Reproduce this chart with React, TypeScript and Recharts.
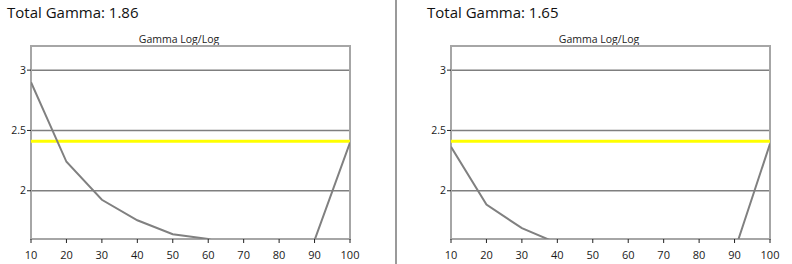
import {
  LineChart,
  Line,
  XAxis,
  YAxis,
  CartesianGrid,
  ReferenceLine,
  ReferenceArea,
} from 'recharts'

const levels = [10, 20, 30, 40, 50, 60, 70, 80, 90, 100]
const gammaLeft = [2.9, 2.24, 1.925, 1.755, 1.64, 1.6, 1.5, 1.5, 1.59, 2.4]
const gammaRight = [2.365, 1.885, 1.69, 1.565, 1.5, 1.45, 1.45, 1.45, 1.5, 2.39]
const totalGamma = ['1.86', '1.65']
const targetGamma = 2.41
const xTicks = [10, 20, 30, 40, 50, 60, 70, 80, 90, 100]
const yTicks = [2, 2.5, 3]
const yDomain = [1.6, 3.2]

const FONT = '"Open Sans", "Noto Sans", sans-serif'

function GammaPanel({ left, values, total }: { left: number; values: number[]; total: string }) {
  const data = levels.map((x, i) => ({ x, gamma: values[i] }))

  return (
    <div style={{ position: 'absolute', left, top: 0, width: 372, height: 264 }}>
      <div
        style={{
          position: 'absolute',
          left: 7,
          top: 4.7,
          fontSize: 15,
          lineHeight: '15px',
          color: '#111',
          fontFamily: FONT,
          whiteSpace: 'nowrap',
        }}
      >
        Total Gamma: {total}
      </div>
      <div
        style={{
          position: 'absolute',
          left: 79,
          top: 33.5,
          width: 200,
          textAlign: 'center',
          fontSize: 10.5,
          lineHeight: '10.5px',
          color: '#222',
          fontFamily: FONT,
        }}
      >
        Gamma Log/Log
      </div>
      <div style={{ position: 'absolute', left: 0, top: 0 }}>
        <LineChart
          width={360}
          height={264}
          data={data}
          margin={{ top: 46, right: 10, left: 0, bottom: 0 }}
        >
          <CartesianGrid vertical={false} stroke="#7f7f7f" strokeWidth={1.5} />
          <XAxis
            type="number"
            dataKey="x"
            domain={[10, 100]}
            ticks={xTicks}
            allowDataOverflow
            axisLine={false}
            stroke="#222"
            tickSize={4}
            tickMargin={8}
            height={25}
            tick={{ fill: '#1a1a1a', fontSize: 11, fontFamily: FONT }}
          />
          <YAxis
            domain={yDomain}
            ticks={yTicks}
            allowDataOverflow
            axisLine={false}
            stroke="#222"
            tickSize={4}
            tickMargin={1}
            width={31}
            tick={{ fill: '#1a1a1a', fontSize: 10.5, fontFamily: FONT }}
          />
          <ReferenceArea
            x1={10}
            x2={100}
            y1={1.6}
            y2={3.2}
            fill="none"
            stroke="#a6a6a6"
            strokeWidth={2}
          />
          <ReferenceLine y={targetGamma} stroke="#ffff00" strokeWidth={3} />
          <Line
            type="linear"
            dataKey="gamma"
            stroke="#808080"
            strokeWidth={2}
            dot={false}
            isAnimationActive={false}
          />
        </LineChart>
      </div>
    </div>
  )
}

export default function App() {
  return (
    <div
      style={{
        position: 'absolute',
        left: 0,
        top: 0,
        width: 792,
        height: 264,
        background: '#fff',
        overflow: 'hidden',
      }}
    >
      <GammaPanel left={0} values={gammaLeft} total={totalGamma[0]} />
      <div
        style={{
          position: 'absolute',
          left: 395,
          top: 0,
          width: 2,
          height: 264,
          background: '#9a9a9a',
        }}
      />
      <GammaPanel left={420} values={gammaRight} total={totalGamma[1]} />
    </div>
  )
}
